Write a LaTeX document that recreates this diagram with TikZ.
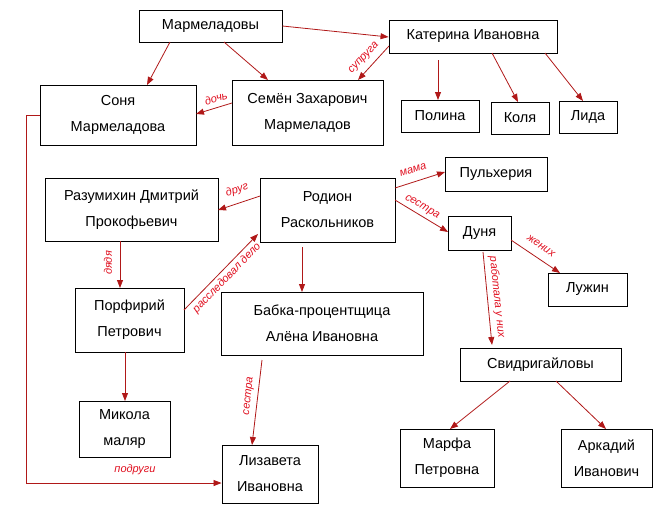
\documentclass[tikz,border=0pt]{standalone}
\usepackage{fontspec}
\setmainfont{Liberation Sans}
\usetikzlibrary{arrows.meta}
\definecolor{arr}{HTML}{B01818}
\definecolor{lab}{HTML}{E01020}
\tikzset{
 box/.style={draw=black,line width=0.9pt,fill=white,align=center,inner sep=0pt,font=\fontsize{14.5}{26}\selectfont},
 rel/.style={draw=arr,line width=0.8pt,-{Triangle[length=8pt,width=6pt]}},
 lbl/.style={text=lab,font=\fontsize{11}{12}\selectfont\itshape,inner sep=0pt}
}
\newcommand{\bx}[6]{\node[box,minimum width=#3pt-#2pt,minimum height=#5pt-#4pt] (#1) at ({(#2+#3)/2*1pt},{-(#4+#5)/2*1pt}) {#6};}
\begin{document}
\begin{tikzpicture}[x=1pt,y=1pt]
\useasboundingbox (0,0) rectangle (671,-514);
\bx{marm}{139}{282}{10}{42}{Мармеладовы}
\bx{kat}{389}{557}{20}{53}{Катерина Ивановна}
\bx{sonya}{40}{196}{85}{145}{Соня\\Мармеладова}
\bx{sem}{232}{383}{80}{145}{Семён Захарович\\Мармеладов}
\bx{pol}{401}{479}{100}{132}{Полина}
\bx{kol}{491}{549}{102}{134}{Коля}
\bx{lid}{559}{617}{101}{133}{Лида}
\bx{raz}{45}{218}{178}{241}{Разумихин Дмитрий\\Прокофьевич}
\bx{rod}{260}{395}{178}{242}{Родион\\Раскольников}
\bx{pul}{445}{547}{157}{191}{Пульхерия}
\bx{dun}{448}{511}{216}{250}{Дуня}
\bx{luz}{548}{627}{273}{306}{Лужин}
\bx{por}{75}{184}{288}{352}{Порфирий\\Петрович}
\bx{bab}{221}{423}{292}{355}{Бабка-процентщица\\Алёна Ивановна}
\bx{svi}{460}{621}{348}{381}{Свидригайловы}
\bx{mik}{79}{170}{401}{457}{Микола\\маляр}
\bx{liz}{222}{318}{445}{503}{Лизавета\\Ивановна}
\bx{mar}{400}{494}{429}{487}{Марфа\\Петровна}
\bx{ark}{561}{652}{429}{487}{Аркадий\\Иванович}

\draw[rel] (marm.east|-0,-26) -- (kat.west|-0,-37);
\draw[rel] (170,-42) -- (147,-85);
\draw[rel] (224,-42) -- (268,-80);
\draw[rel] (389,-46) -- (358,-80);
\node[lbl,rotate=47] (l1) at (364,-58) {супруга};
\draw[rel] (232,-103) -- (196,-114);
\node[lbl,rotate=17] (l2) at (216,-98) {дочь};
\draw[rel] (438,-60) -- (438,-100);
\draw[rel] (492,-53) -- (518,-102);
\draw[rel] (545,-53) -- (583,-101);
\draw[rel] (sonya.west|-0,-115) -- (26,-115) -- (26,-483) -- (liz.west|-0,-483);
\node[lbl] (l3) at (135,-470) {подруги};
\draw[rel] (260,-196) -- (218,-210);
\node[lbl,rotate=17] (l4) at (237,-190) {друг};
\draw[rel] (395,-188) -- (445,-172);
\node[lbl,rotate=17] (l5) at (413,-170) {мама};
\draw[rel] (395,-200) -- (448,-232);
\node[lbl,rotate=-30] (l6) at (422,-207) {сестра};
\draw[rel] (120,-241) -- (120,-288);
\node[lbl,rotate=90] (l7) at (108,-263) {дядя};
\draw[rel] (184,-310) -- (258,-234);
\node[lbl,rotate=46] (l8) at (227,-278) {расследовал дело};
\draw[rel] (125,-352) -- (125,-401);
\draw[rel] (302,-247) -- (302,-292);
\draw[rel] (262,-360) -- (252,-445);
\node[lbl,rotate=84] (l9) at (249,-396) {сестра};
\draw[rel] (511,-240) -- (560,-273);
\node[lbl,rotate=-34] (l10) at (541,-246) {жених};
\draw[rel] (483,-252) -- (492,-345);
\node[lbl,rotate=-84] (l11) at (497,-297) {работала у них};
\draw[rel] (510,-381) -- (450,-429);
\draw[rel] (556,-381) -- (606,-429);
\end{tikzpicture}
\end{document}
